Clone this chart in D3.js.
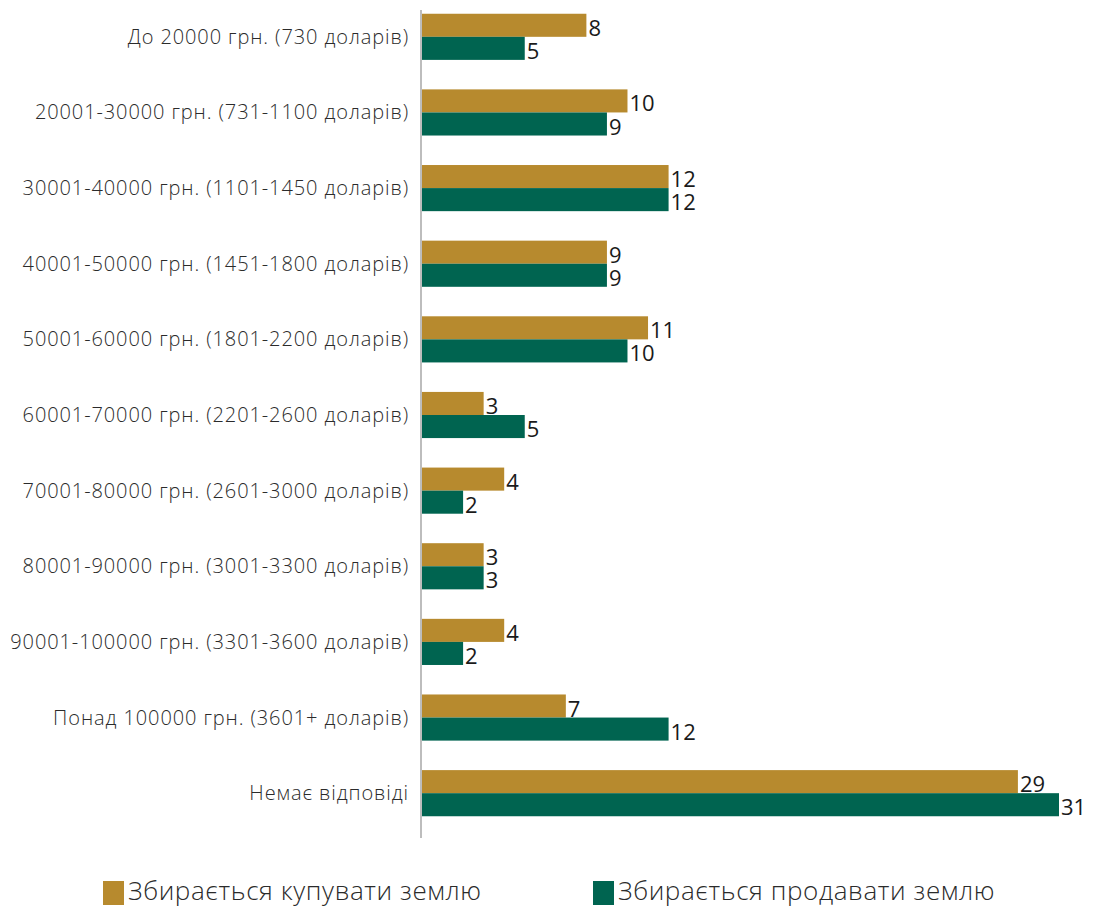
<!DOCTYPE html>
<html>
<head>
<meta charset="utf-8">
<script src="https://cdn.jsdelivr.net/npm/d3@7"></script>
<style>
    body { margin: 0; background: #fff; }
    text { font-family: "Open Sans", sans-serif; }
</style>
</head>
<body>
<div id="chart"></div>
<script>
var categories = ["До 20000 грн. (730 доларів)", "20001-30000 грн. (731-1100 доларів)",
    "30001-40000 грн. (1101-1450 доларів)", "40001-50000 грн. (1451-1800 доларів)",
    "50001-60000 грн. (1801-2200 доларів)", "60001-70000 грн. (2201-2600 доларів)",
    "70001-80000 грн. (2601-3000 доларів)", "80001-90000 грн. (3001-3300 доларів)",
    "90001-100000 грн. (3301-3600 доларів)", "Понад 100000 грн. (3601+ доларів)",
    "Немає відповіді"];
var seriesNames = ["Збирається купувати землю", "Збирається продавати землю"];
var buyValues = [8, 10, 12, 9, 11, 3, 4, 3, 4, 7, 29];
var sellValues = [5, 9, 12, 9, 10, 5, 2, 3, 2, 12, 31];
var colors = ["#b78a2e", "#006450"];

var width = 1093, height = 909;

var svg = d3.select("#chart")
    .append("svg")
    .attr("width", width)
    .attr("height", height);

var x = d3.scaleLinear()
    .domain([0, 31])
    .range([422, 1059]);

var y = d3.scaleBand()
    .domain(categories)
    .range([-1, 831])
    .paddingInner(0.39)
    .paddingOuter(0.195);

var ySub = d3.scaleBand()
    .domain([0, 1])
    .range([0, y.bandwidth()]);

var rows = categories.map(function (c, i) {
    return {cat: c, vals: [buyValues[i], sellValues[i]]};
});

var groups = svg.selectAll(".row")
    .data(rows)
    .enter()
    .append("g")
    .attr("transform", function (d) {
        return "translate(0," + y(d.cat) + ")";
    });

groups.selectAll("rect")
    .data(function (d) { return d.vals; })
    .enter()
    .append("rect")
    .attr("x", x(0))
    .attr("y", function (d, i) { return ySub(i); })
    .attr("width", function (d) { return x(d) - x(0); })
    .attr("height", ySub.bandwidth())
    .style("fill", function (d, i) { return colors[i]; });

// value labels, sitting on the bottom of each bar
groups.selectAll(".val")
    .data(function (d) { return d.vals; })
    .enter()
    .append("text")
    .attr("class", "val")
    .attr("x", function (d) { return x(d) + 2; })
    .attr("y", function (d, i) { return ySub(i) + ySub.bandwidth() - 1; })
    .style("font-size", "22px")
    .style("fill", "#1a1a1a")
    .text(function (d) { return d; });

// category labels
svg.selectAll(".cat")
    .data(categories)
    .enter()
    .append("text")
    .attr("class", "cat")
    .attr("x", 409)
    .attr("y", function (d) { return y(d) + y.bandwidth() / 2 + 7; })
    .attr("text-anchor", "end")
    .style("font-size", "20px")
    .style("font-weight", 300)
    .style("letter-spacing", "0.9px")
    .style("fill", "#2b2b2b")
    .text(function (d) { return d; });

// vertical axis line
svg.append("line")
    .attr("x1", 421).attr("x2", 421)
    .attr("y1", 10).attr("y2", 838)
    .style("stroke", "#bdbdbd")
    .style("stroke-width", 2);

// legend
var legendX = [103, 593];
var legend = svg.selectAll(".legend")
    .data(seriesNames)
    .enter()
    .append("g")
    .attr("transform", function (d, i) {
        return "translate(" + legendX[i] + ",881)";
    });

legend.append("rect")
    .attr("width", 21)
    .attr("height", 24)
    .style("fill", function (d, i) { return colors[i]; });

legend.append("text")
    .attr("x", 25)
    .attr("y", 19)
    .style("font-size", "26px")
    .style("font-weight", 300)
    .style("letter-spacing", "0.6px")
    .style("fill", "#2b2b2b")
    .text(function (d) { return d; });
</script>
</body>
</html>
